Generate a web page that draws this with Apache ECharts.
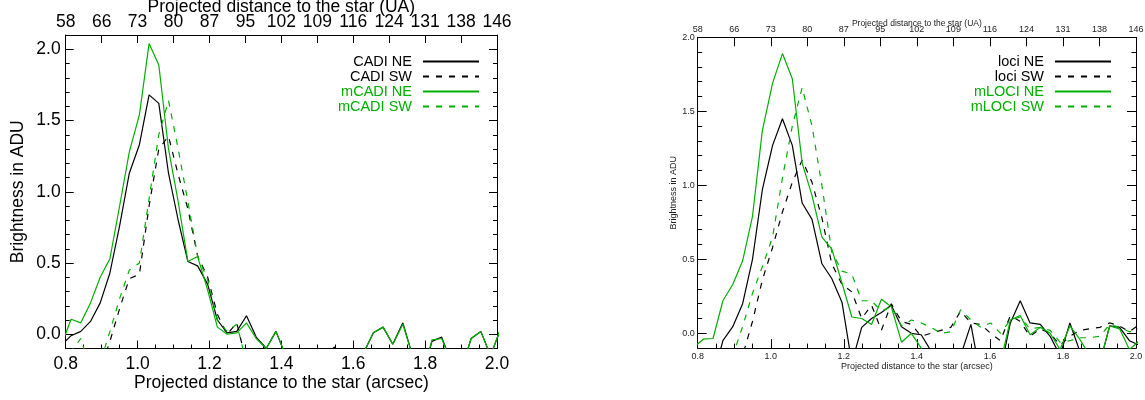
<!DOCTYPE html>
<html><head><meta charset="utf-8">
<script src="https://cdn.jsdelivr.net/npm/echarts@6/dist/echarts.min.js"></script>
<style>html,body{margin:0;padding:0;background:#fff}#c{width:1145px;height:400px}</style>
</head><body><div id="c"></div>
<script>
// ---- data ----
const distances = [0.787, 0.815, 0.842, 0.869, 0.896, 0.923, 0.950, 0.977, 1.005, 1.032,
  1.059, 1.086, 1.113, 1.140, 1.167, 1.195, 1.222, 1.249, 1.276, 1.303,
  1.330, 1.358, 1.385, 1.412, 1.439, 1.466, 1.493, 1.520, 1.548, 1.575,
  1.602, 1.629, 1.656, 1.683, 1.710, 1.738, 1.765, 1.792, 1.819, 1.846,
  1.873, 1.901, 1.928, 1.955, 1.982, 2.009];

const cadiNE = [-0.08, -0.01, 0.02, 0.09, 0.22, 0.43, 0.76, 1.13, 1.33, 1.68,
  1.62, 1.13, 0.80, 0.51, 0.48, 0.35, 0.10, 0.01, 0.02, 0.13,
  -0.02, -0.10, 0.02, -0.15, -0.30, -0.25, -0.20, -0.15, -0.09, -0.20,
  -0.25, -0.13, 0.01, 0.05, -0.07, 0.08, -0.15, -0.30, -0.05, -0.02,
  -0.20, -0.25, -0.03, 0.02, -0.15, 0.03];
const cadiSW = [-0.40, -0.40, -0.35, -0.30, -0.25, -0.05, 0.18, 0.39, 0.42, 0.90,
  1.30, 1.39, 1.12, 0.88, 0.55, 0.40, 0.14, 0.00, 0.08, -0.20,
  -0.30, -0.35, -0.30, -0.40, -0.35, -0.30, -0.35, -0.30, -0.25, -0.30,
  -0.35, -0.30, -0.25, -0.30, -0.35, -0.30, -0.30, -0.35, -0.30, -0.25,
  -0.30, -0.35, -0.30, -0.30, -0.35, -0.30];
const mcadiNE = [-0.08, 0.105, 0.08, 0.22, 0.40, 0.53, 0.90, 1.28, 1.54, 2.04,
  1.89, 1.30, 0.93, 0.51, 0.545, 0.31, 0.05, 0.00, 0.01, 0.08,
  -0.03, -0.10, 0.02, -0.15, -0.30, -0.25, -0.20, -0.25, -0.30, -0.30,
  -0.25, -0.13, 0.01, 0.05, -0.07, 0.07, -0.15, -0.30, -0.04, -0.03,
  -0.20, -0.25, -0.03, 0.02, -0.15, 0.03];
const mcadiSW = [-0.20, -0.12, -0.03, -0.25, -0.20, 0.02, 0.25, 0.45, 0.50, 0.95,
  1.40, 1.64, 1.30, 0.93, 0.55, 0.38, 0.10, 0.02, 0.07, -0.20,
  -0.30, -0.35, -0.30, -0.30, -0.35, -0.30, -0.30, -0.35, -0.30, -0.30,
  -0.35, -0.30, -0.30, -0.35, -0.30, -0.30, -0.35, -0.30, -0.30, -0.35,
  -0.30, -0.30, -0.35, -0.30, -0.30, -0.35];

const lociNE = [-0.40, -0.35, -0.30, -0.05, 0.045, 0.20, 0.50, 0.97, 1.27, 1.45,
  1.27, 0.88, 0.77, 0.47, 0.37, 0.21, -0.20, 0.04, 0.10, 0.14,
  0.19, 0.045, 0.00, -0.01, -0.12, -0.30, -0.25, -0.15, 0.06, -0.30,
  -0.35, -0.25, 0.07, 0.22, 0.07, 0.06, -0.02, -0.15, 0.07, -0.12,
  -0.30, -0.20, 0.05, 0.04, -0.05, -0.08];
const lociSW = [-0.50, -0.45, -0.40, -0.35, -0.30, -0.15, 0.08, 0.36, 0.58, 0.82,
  1.02, 1.17, 1.02, 0.78, 0.47, 0.33, 0.28, 0.10, 0.19, 0.02,
  0.20, 0.08, 0.06, -0.02, 0.00, 0.02, 0.04, 0.15, 0.07, 0.06,
  0.00, -0.05, 0.12, 0.08, -0.02, 0.03, 0.00, -0.08, -0.02, 0.02,
  0.03, 0.04, 0.07, 0.05, 0.01, 0.06];
const mlociNE = [-0.10, -0.04, -0.035, 0.22, 0.33, 0.49, 0.79, 1.37, 1.69, 1.89,
  1.72, 1.15, 0.93, 0.65, 0.57, 0.34, 0.11, 0.10, 0.06, 0.23,
  0.18, -0.06, 0.00, -0.10, -0.20, -0.30, -0.20, -0.12, -0.12, -0.30,
  -0.30, -0.20, 0.09, 0.12, -0.01, 0.04, 0.00, -0.11, 0.05, -0.04,
  -0.15, -0.20, 0.05, 0.03, -0.11, -0.05];
const mlociSW = [-0.50, -0.45, -0.40, -0.30, -0.15, 0.045, 0.27, 0.45, 0.65, 1.05,
  1.40, 1.66, 1.40, 1.00, 0.55, 0.42, 0.40, 0.22, 0.22, 0.15,
  0.18, 0.05, 0.09, 0.07, 0.04, 0.00, 0.01, 0.16, 0.09, 0.04,
  0.07, 0.00, 0.09, 0.11, 0.03, 0.04, 0.02, -0.06, -0.05, -0.03,
  -0.03, -0.02, 0.06, 0.04, 0.01, 0.03];

// tick labels
const uaTickPositions = [0.8, 0.9, 1.0, 1.1, 1.2, 1.3, 1.4, 1.5, 1.6, 1.7, 1.8, 1.9, 2.0];
const uaLabels = ['58', '66', '73', '80', '87', '95', '102', '109', '116', '124', '131', '138', '146'];
const brightnessTicks = [0.0, 0.5, 1.0, 1.5, 2.0];

const xTitle = 'Projected distance to the star (arcsec)';
const topTitle = 'Projected distance to the star (UA)';
const yTitle = 'Brightness in ADU';

// ---- style ----
const FONT = "'Liberation Sans', Arial, Helvetica, sans-serif";
const BLACK = '#000000';
const GREEN = '#00b000';
const AX = { color: '#000', width: 1 };

function pairs(ys) { return distances.map((x, i) => [x, ys[i]]); }

function panelAxes(gi, s) {
  const fs = s.fs, col = s.textColor;
  const xs = [
    { // bottom
      type: 'value', gridIndex: gi, position: 'bottom', min: 0.8, max: 2.0, interval: 0.2,
      axisLine: { show: true, onZero: false, lineStyle: AX },
      axisTick: { show: true, inside: true, length: s.major, lineStyle: AX },
      minorTick: { show: true, splitNumber: 4, length: s.minor, lineStyle: AX },
      splitLine: { show: false }, minorSplitLine: { show: false },
      axisLabel: { margin: s.bMargin, fontSize: fs, color: col, fontFamily: FONT,
        formatter: v => v.toFixed(1) },
      name: xTitle, nameLocation: 'middle', nameGap: s.bNameGap, nameMoveOverlap: false,
      nameTextStyle: { fontSize: fs, color: col, fontFamily: FONT }
    },
    { // top (UA)
      type: 'value', gridIndex: gi, position: 'top', min: 0.8, max: 2.0,
      axisLine: { show: true, onZero: false, lineStyle: AX },
      axisTick: { show: true, inside: true, length: s.major, lineStyle: AX, customValues: uaTickPositions },
      splitLine: { show: false },
      axisLabel: { margin: s.tMargin, fontSize: fs, color: col, fontFamily: FONT,
        customValues: uaTickPositions,
        formatter: v => uaLabels[Math.round((v - 0.8) * 10)] },
      name: topTitle, nameLocation: 'middle', nameGap: s.tNameGap, nameMoveOverlap: false,
      nameTextStyle: { fontSize: s.topTitleFs, color: col, fontFamily: FONT }
    }
  ];
  const ymax = s.ymax;
  const ys = [
    { // left main
      type: 'value', gridIndex: gi, position: 'left', min: -0.1, max: ymax,
      axisLine: { show: true, onZero: false, lineStyle: AX },
      axisTick: { show: true, inside: true, length: s.major, lineStyle: AX, customValues: brightnessTicks },
      splitLine: { show: false },
      axisLabel: { margin: s.yMargin, fontSize: fs, color: col, fontFamily: FONT,
        customValues: brightnessTicks, formatter: v => v.toFixed(1) },
      name: yTitle, nameLocation: 'middle', nameGap: s.yNameGap, nameRotate: 90, nameMoveOverlap: false,
      nameTextStyle: { fontSize: fs, color: col, fontFamily: FONT }
    },
    { // left minor
      type: 'value', gridIndex: gi, position: 'left', min: -0.1, max: ymax, interval: 0.1,
      axisLine: { show: false, onZero: false },
      axisTick: { show: true, inside: true, length: s.minor, lineStyle: AX },
      splitLine: { show: false }, axisLabel: { show: false }
    },
    { // right main
      type: 'value', gridIndex: gi, position: 'right', min: -0.1, max: ymax,
      axisLine: { show: true, onZero: false, lineStyle: AX },
      axisTick: { show: true, inside: true, length: s.major, lineStyle: AX, customValues: brightnessTicks },
      splitLine: { show: false }, axisLabel: { show: false }
    },
    { // right minor
      type: 'value', gridIndex: gi, position: 'right', min: -0.1, max: ymax, interval: 0.1,
      axisLine: { show: false, onZero: false },
      axisTick: { show: true, inside: true, length: s.minor, lineStyle: AX },
      splitLine: { show: false }, axisLabel: { show: false }
    }
  ];
  return { xs, ys };
}

const left = panelAxes(0, { fs: 17.5, topTitleFs: 17.5, textColor: '#000', major: 8, minor: 4, ymax: 2.1,
  bMargin: 7, bNameGap: 26, tMargin: 4, tNameGap: 19, yMargin: 5, yNameGap: 39 });
const right = panelAxes(1, { fs: 9, topTitleFs: 8.5, textColor: '#222', major: 9, minor: 4.5, ymax: 2.0,
  bMargin: 3.5, bNameGap: 14, tMargin: 3, tNameGap: 9.5, yMargin: 3, yNameGap: 20 });

function line(name, data, color, dashed, xi, yi) {
  return {
    type: 'line', name, data: pairs(data), xAxisIndex: xi, yAxisIndex: yi,
    symbol: 'none', showSymbol: false, clip: true, silent: true,
    lineStyle: { color, width: 1.2, type: dashed ? [6, 7] : 'solid' },
    itemStyle: { color }
  };
}

function legendFor(names, colors, rightPx) {
  return {
    data: names.map((n, i) => ({ name: n, textStyle: { color: colors[i] } })),
    orient: 'vertical', align: 'right', right: rightPx, top: 54,
    itemWidth: 56, itemHeight: 14.8, itemGap: 0, padding: 0, selectedMode: false,
    itemStyle: { opacity: 0, borderWidth: 0 },
    textStyle: { fontSize: 14.5, fontFamily: FONT, lineHeight: 14.8, padding: [0, 6, 0, 0] }
  };
}

const option = {
  animation: false,
  backgroundColor: '#ffffff',
  grid: [
    { left: 65.7, top: 35, width: 431.3, height: 313.5, outerBoundsMode: 'none', containLabel: false },
    { left: 697.7, top: 37.3, width: 438.3, height: 310.8, outerBoundsMode: 'none', containLabel: false }
  ],
  xAxis: left.xs.concat(right.xs),
  yAxis: left.ys.concat(right.ys),
  legend: [
    legendFor(['CADI NE', 'CADI SW', 'mCADI NE', 'mCADI SW'], [BLACK, BLACK, GREEN, GREEN], 665),
    legendFor(['loci NE', 'loci SW', 'mLOCI NE', 'mLOCI SW'], [BLACK, BLACK, GREEN, GREEN], 33)
  ],
  series: [
    line('CADI NE', cadiNE, BLACK, false, 0, 0),
    line('CADI SW', cadiSW, BLACK, true, 0, 0),
    line('mCADI NE', mcadiNE, GREEN, false, 0, 0),
    line('mCADI SW', mcadiSW, GREEN, true, 0, 0),
    line('loci NE', lociNE, BLACK, false, 2, 4),
    line('loci SW', lociSW, BLACK, true, 2, 4),
    line('mLOCI NE', mlociNE, GREEN, false, 2, 4),
    line('mLOCI SW', mlociSW, GREEN, true, 2, 4)
  ]
};

const chart = echarts.init(document.getElementById('c'), null, { renderer: 'canvas' });
chart.setOption(option);
</script>
</body></html>
